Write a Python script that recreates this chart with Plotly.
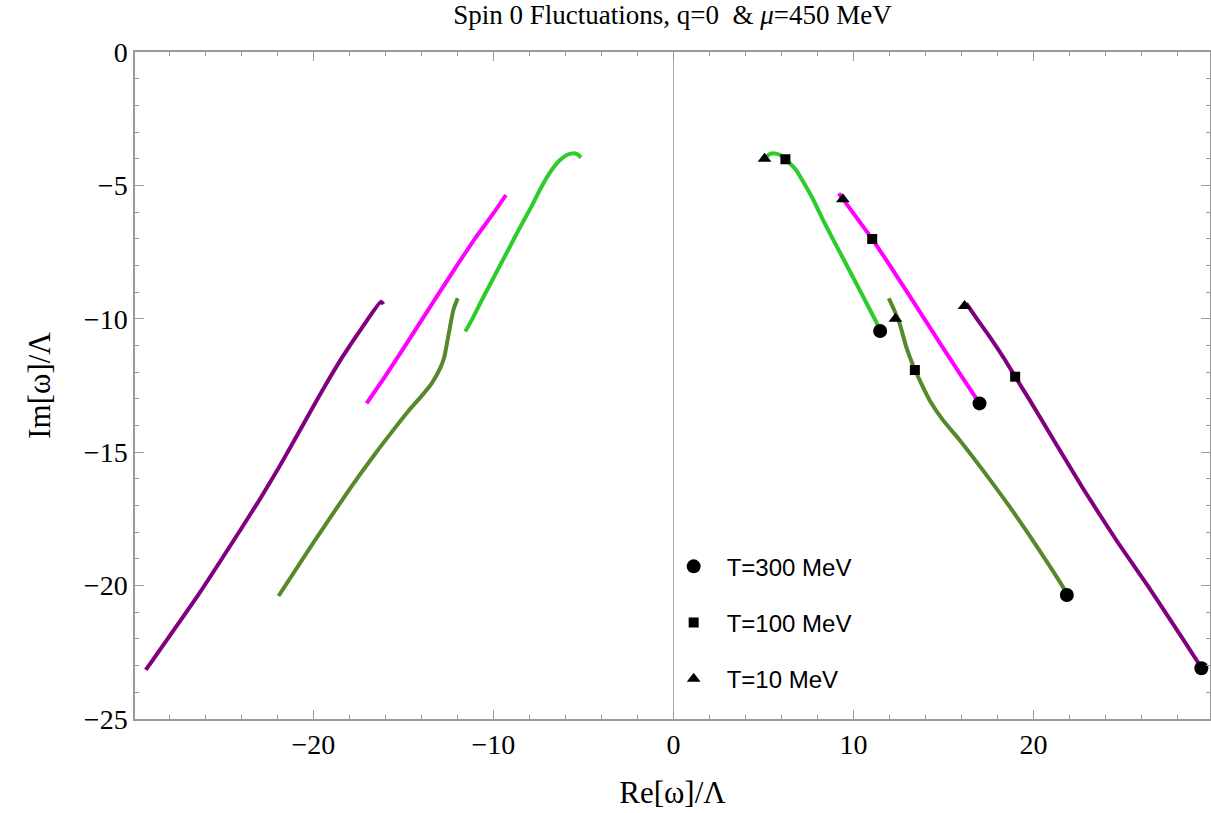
import plotly.graph_objects as go

# ---- data (Re[w]/Lambda, Im[w]/Lambda) ----
# light green branch
re_lg_r = [5.13, 5.35, 5.6, 5.9, 6.22, 6.81, 7.37, 7.74, 8.1, 8.5, 9.2, 9.9, 10.6, 11.3, 11.48]
im_lg_r = [-3.95, -3.83, -3.8, -3.85, -4.02, -4.42, -5.05, -5.5, -6.0, -6.55, -7.45, -8.35, -9.25, -10.17, -10.46]
re_lg_l = [-5.13, -5.35, -5.6, -5.9, -6.3, -6.89, -7.44, -7.85, -8.5, -9.2, -9.9, -10.6, -11.2, -11.56]
im_lg_l = [-3.95, -3.83, -3.8, -3.85, -4.05, -4.55, -5.2, -5.75, -6.55, -7.45, -8.35, -9.25, -10.05, -10.48]

# magenta branch
re_mg_r = [9.18, 10.0, 11.04, 12.0, 13.0, 14.0, 15.0, 16.0, 17.0]
im_mg_r = [-5.3, -6.05, -7.01, -7.98, -9.02, -10.07, -11.12, -12.15, -13.17]
re_mg_l = [-9.3, -10.0, -11.04, -12.0, -13.0, -14.0, -15.0, -16.0, -17.04]
im_mg_l = [-5.36, -6.05, -7.01, -7.98, -9.02, -10.07, -11.12, -12.15, -13.17]

# olive branch
re_ol_r = [11.96, 12.18, 12.56, 12.93, 13.3, 13.67, 14.22, 14.96, 15.89, 17.18, 18.67, 20.15, 21.72, 21.85]
im_ol_r = [-9.23, -9.55, -10.17, -11.05, -11.73, -12.29, -13.04, -13.79, -14.54, -15.67, -17.04, -18.5, -20.15, -20.35]
re_ol_l = [-11.98, -12.22, -12.44, -12.72, -12.95, -13.45, -13.93, -14.67, -15.59, -16.5, -18.0, -20.0, -21.93]
im_ol_l = [-9.23, -9.67, -10.42, -11.42, -11.85, -12.45, -12.85, -13.42, -14.2, -15.0, -16.4, -18.4, -20.39]

# purple branch
re_pu_r = [16.26, 16.8, 17.56, 18.48, 18.98, 19.78, 21.26, 22.74, 24.59, 26.44, 28.29, 29.3]
im_pu_r = [-9.42, -9.95, -10.67, -11.61, -12.17, -13.04, -14.7, -16.35, -18.29, -20.1, -22.0, -23.05]
re_pu_l = [-16.1, -16.24, -17.26, -18.37, -19.48, -20.59, -21.89, -23.0, -24.11, -26.33, -29.3]
im_pu_l = [-9.45, -9.36, -10.3, -11.42, -12.67, -14.0, -15.55, -16.8, -17.98, -20.29, -23.16]

# temperature markers
re_t300 = [11.48, 17.0, 21.85, 29.32]
im_t300 = [-10.46, -13.17, -20.35, -23.1]
re_t100 = [6.22, 11.04, 13.41, 18.98]
im_t100 = [-4.02, -7.01, -11.92, -12.17]
re_t10 = [5.06, 9.41, 12.33, 16.17]
im_t10 = [-4.0, -5.52, -10.0, -9.52]

c_lg = "#2ecc2a"
c_mg = "#ff00ff"
c_ol = "#55892c"
c_pu = "#800080"

fig = go.Figure()

curves = [
    (re_lg_r, im_lg_r, c_lg), (re_lg_l, im_lg_l, c_lg),
    (re_mg_r, im_mg_r, c_mg), (re_mg_l, im_mg_l, c_mg),
    (re_ol_r, im_ol_r, c_ol), (re_ol_l, im_ol_l, c_ol),
    (re_pu_r, im_pu_r, c_pu), (re_pu_l, im_pu_l, c_pu),
]
for xs, ys, col in curves:
    fig.add_trace(go.Scatter(x=xs, y=ys, mode="lines",
                             line=dict(color=col, width=4, shape="spline", smoothing=0.5),
                             showlegend=False, hoverinfo="skip"))

markers = [
    ("T=300 MeV", re_t300, im_t300, "circle", 14, "g1"),
    ("T=100 MeV", re_t100, im_t100, "square", 10, "g2"),
    ("T=10 MeV", re_t10, im_t10, "triangle-up", 12, "g3"),
]
for name, xs, ys, sym, sz, grp in markers:
    fig.add_trace(go.Scatter(x=xs, y=ys, mode="markers", name=name, legendgroup=grp,
                             marker=dict(symbol=sym, size=sz, color="black", line=dict(width=0))))

serif = "Liberation Serif"
axis_common = dict(
    showline=True, linecolor="#9a9a9a", linewidth=1.5, mirror="ticks",
    ticks="inside", tickcolor="#9a9a9a", tickwidth=1, ticklen=9,
    showgrid=False, tickfont=dict(family=serif, size=28, color="black"),
    automargin=False,
)

fig.update_xaxes(range=[-29.9, 29.8], dtick=10, tick0=0,
                 minor=dict(dtick=2, ticks="inside", ticklen=4, tickcolor="#9a9a9a", showgrid=False),
                 zeroline=True, zerolinecolor="#aaaaaa", zerolinewidth=1,
                 title=dict(text="Re[ω]/Λ", font=dict(family=serif, size=31, color="black"), standoff=22),
                 **axis_common)
fig.update_yaxes(range=[-25, 0], dtick=5, tick0=0,
                 minor=dict(dtick=1, ticks="inside", ticklen=4, tickcolor="#9a9a9a", showgrid=False),
                 zeroline=False,
                 title=dict(text="Im[ω]/Λ", font=dict(family=serif, size=31, color="black"), standoff=24),
                 **axis_common)

fig.update_layout(
    width=1211, height=813,
    margin=dict(l=135, r=1, t=52, b=94),
    plot_bgcolor="white", paper_bgcolor="white",
    title=dict(text="Spin 0 Fluctuations, q=0\u00a0 & <i>μ</i>=450 MeV",
               font=dict(family=serif, size=27, color="black"),
               x=0.5, xref="paper", xanchor="center", y=0.982, yref="container", yanchor="middle"),
    legend=dict(x=0.489, y=0.262, xanchor="left", yanchor="top", xref="paper", yref="paper",
                font=dict(family="Liberation Sans", size=24, color="black"),
                bgcolor="rgba(0,0,0,0)", tracegroupgap=22, itemwidth=56),
)

fig.write_html("out.html", config={"displayModeBar": False},
               post_script="document.body.style.margin='0';")
